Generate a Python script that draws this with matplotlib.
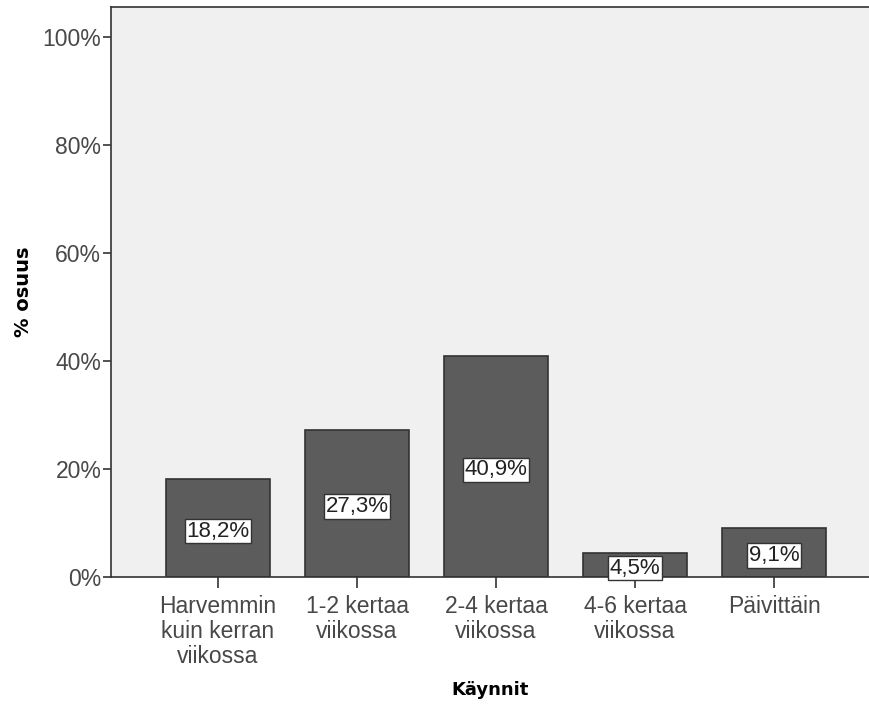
import matplotlib.pyplot as plt

# data
categories = ["Harvemmin\nkuin kerran\nviikossa", "1-2 kertaa\nviikossa",
              "2-4 kertaa\nviikossa", "4-6 kertaa\nviikossa", "Päivittäin"]
shares = [18.2, 27.3, 40.9, 4.5, 9.1]
value_labels = ["18,2%", "27,3%", "40,9%", "4,5%", "9,1%"]
yticks = [0, 20, 40, 60, 80, 100]
ytick_labels = ["0%", "20%", "40%", "60%", "80%", "100%"]

plt.rcParams['font.family'] = ['Liberation Sans', 'DejaVu Sans']

fig = plt.figure(figsize=(8.7, 7.06), dpi=100)
ax = fig.add_axes([0.1276, 0.1827, 0.8724, 0.8074])
ax.set_facecolor('#f0f0f0')

x = range(len(categories))
ax.bar(x, shares, width=0.745, color='#5c5c5c', edgecolor='#333333', linewidth=1.2, zorder=2)

for xi, v, lab in zip(x, shares, value_labels):
    ax.text(xi, v / 2 - 0.6, lab, ha='center', va='center', fontsize=16, color='#222222',
            bbox=dict(boxstyle='square,pad=0.08', facecolor='white', edgecolor='#333333', linewidth=1),
            zorder=3)

ax.set_xlim(-0.77, 4.69)
ax.set_ylim(0, 105.6)
ax.set_yticks(yticks)
ax.set_yticklabels(ytick_labels)
ax.set_xticks(list(x))
ax.set_xticklabels(categories, linespacing=1.1)
ax.tick_params(axis='y', length=6, width=1.2, color='#333333', labelsize=16.5, labelcolor='#484848', pad=1)
ax.tick_params(axis='x', length=8, width=1.2, color='#333333', labelsize=16.5, labelcolor='#484848', pad=5)

for s in ['top', 'left', 'bottom']:
    ax.spines[s].set_color('#333333')
    ax.spines[s].set_linewidth(1.2)
ax.spines['right'].set_visible(False)

ax.set_ylabel("% osuus", fontsize=14, fontweight='bold', family='DejaVu Sans', labelpad=7)
ax.set_xlabel("Käynnit", fontsize=13, fontweight='bold', family='DejaVu Sans')
ax.xaxis.set_label_coords(0.5, -0.183)

fig.savefig('out.png', dpi=100)
